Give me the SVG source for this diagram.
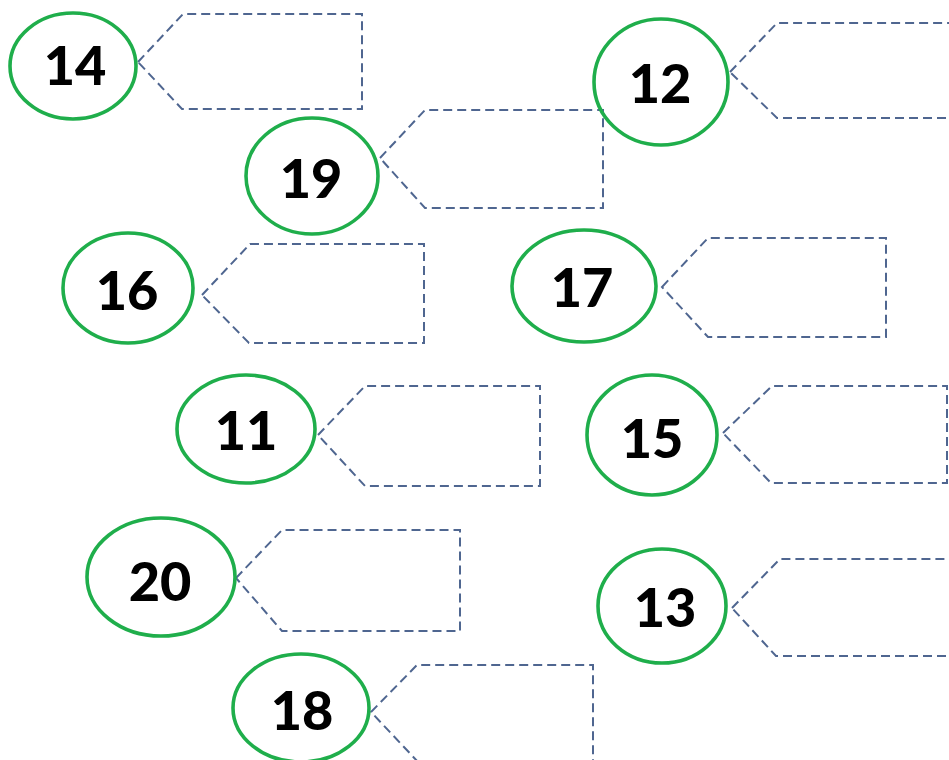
<svg xmlns="http://www.w3.org/2000/svg" width="949" height="760" viewBox="0 0 949 760">
<style>
.c{fill:none;stroke:#1fae4b;stroke-width:3.6}
.t{fill:none;stroke:#4f6690;stroke-width:2;stroke-dasharray:9 5}
.n{font-family:Lato,"Open Sans","Liberation Sans",sans-serif;font-weight:900;font-size:54px;fill:#000;text-anchor:middle}
</style>
<rect width="949" height="760" fill="#fff"/>
<g id="connectors">
<path class="t" d="M138,62 L183,14 L362,14 L362,109 L182,109 Z"/>
<path class="t" d="M730,72 L777,23 L960,23 M960,118 L777,118 L730,72"/>
<path class="t" d="M380,158 L425,110 L603,110 L603,208 L425,208 Z"/>
<path class="t" d="M202,295 L250,244 L424,244 L424,343 L249,343 Z"/>
<path class="t" d="M662,287 L708,238 L886,238 L886,337 L708,337 Z"/>
<path class="t" d="M318,435 L365,386 L540,386 L540,486 L365,486 Z"/>
<path class="t" d="M723,433 L772,386 L947,386 L947,483 L771,483 Z"/>
<path class="t" d="M236,578 L282,530 L460,530 L460,631 L282,631 Z"/>
<path class="t" d="M732,608 L780,559 L960,559 M960,656 L776,656 L732,608"/>
<path class="t" d="M419,763 L371,712 L417,665 L593,665 L593,765"/>
</g>
<g id="n14"><ellipse class="c" cx="73" cy="66" rx="63" ry="53"/><text class="n" x="75" y="85">14</text></g>
<g id="n12"><ellipse class="c" cx="661" cy="82" rx="67" ry="63"/><text class="n" x="660" y="103">12</text></g>
<g id="n19"><ellipse class="c" cx="312" cy="176" rx="66" ry="58"/><text class="n" x="311" y="198">19</text></g>
<g id="n16"><ellipse class="c" cx="128" cy="288" rx="65" ry="55"/><text class="n" x="127" y="310">16</text></g>
<g id="n17"><ellipse class="c" cx="584" cy="286" rx="72" ry="56"/><text class="n" x="582" y="307">17</text></g>
<g id="n11"><ellipse class="c" cx="246" cy="429" rx="69" ry="54"/><text class="n" x="246" y="450">11</text></g>
<g id="n15"><ellipse class="c" cx="652" cy="435" rx="65" ry="60"/><text class="n" x="652" y="458">15</text></g>
<g id="n20"><ellipse class="c" cx="161" cy="577" rx="74" ry="59"/><text class="n" x="160" y="601">20</text></g>
<g id="n13"><ellipse class="c" cx="662" cy="606" rx="64" ry="57"/><text class="n" x="665" y="627">13</text></g>
<g id="n18"><ellipse class="c" cx="301" cy="708" rx="68" ry="54"/><text class="n" x="302" y="730">18</text></g>
</svg>
